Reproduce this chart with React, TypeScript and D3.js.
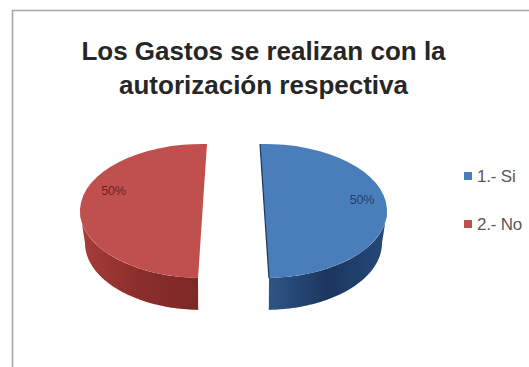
import React from "react";
import * as d3 from "d3";

const categories = ["1.- Si", "2.- No"];
const shares = [50, 50];
const titleLines = ["Los Gastos se realizan con la", "autorización respectiva"];

const topColors = ["#4a7ebb", "#c0504d"];
const sideStops = [
  ["#2f5586", "#1b365f", "#264a78"],
  ["#a83d3a", "#8a2e2c", "#7d2826"],
];

const WIDTH = 529;
const HEIGHT = 367;
const RX = 122.5;
const RY = 67;
const DEPTH = 32;
const CY = 211;
const BASE_SHRINK = 5; // the far rim narrows slightly, as in a perspective view
const LEAN = (2.1 * Math.PI) / 180;
// Each exploded wedge leans its flat edge away from the gap by the same angle.
const leans = [-LEAN, LEAN];
const centres = [264.5, 202.5];
const labelOffsets = [
  [97.5, -10],
  [-89, -19],
];

export default function App() {
  const slices = d3.pie<number>().sort(null)(shares).map((s, i) => ({
    ...s,
    startAngle: s.startAngle + leans[i],
    endAngle: s.endAngle + leans[i],
  }));
  const top = d3.arc<d3.PieArcDatum<number>>().innerRadius(0).outerRadius(RX);
  const outline = d3.line<[number, number]>();

  const sidePath = (s: d3.PieArcDatum<number>, cx: number) => {
    const from = Math.max(s.startAngle, Math.PI / 2);
    const to = Math.min(s.endAngle, (3 * Math.PI) / 2);
    const angles = d3.range(0, 61).map((i) => from + ((to - from) * i) / 60);
    const upper = angles.map((a): [number, number] => [
      cx + RX * Math.sin(a),
      CY - RY * Math.cos(a),
    ]);
    const lower = angles
      .map((a): [number, number] => [
        cx + (RX - BASE_SHRINK) * Math.sin(a),
        CY + DEPTH - RY * Math.cos(a),
      ])
      .reverse();
    return outline([...upper, ...lower]) + "Z";
  };

  const chordEdge = (s: d3.PieArcDatum<number>, cx: number) =>
    outline([
      [cx + RX * Math.sin(s.startAngle), CY - RY * Math.cos(s.startAngle)],
      [cx + RX * Math.sin(s.endAngle), CY - RY * Math.cos(s.endAngle)],
    ]) ?? "";

  return (
    <svg
      width={WIDTH}
      height={HEIGHT}
      viewBox={`0 0 ${WIDTH} ${HEIGHT}`}
      style={{ position: "fixed", left: 0, top: 0, background: "#fff" }}
    >
      <defs>
        {sideStops.map((stops, i) => (
          <linearGradient key={i} id={`side-${i}`} x1="0" x2="1" y1="0" y2="0">
            {stops.map((c, j) => (
              <stop key={j} offset={j / (stops.length - 1)} stopColor={c} />
            ))}
          </linearGradient>
        ))}
      </defs>

      <path d="M12.5 367V10.5H529" fill="none" stroke="#a6a6a6" strokeWidth={1.6} />

      {titleLines.map((line, i) => (
        <text
          key={line}
          x={263.5}
          y={60 + i * 33.5}
          textAnchor="middle"
          fontFamily="'Liberation Sans', Arial, sans-serif"
          fontSize={26}
          fontWeight={700}
          fill="#262626"
        >
          {line}
        </text>
      ))}

      {slices.map((s, i) => (
        <g key={categories[i]}>
          <path d={sidePath(s, centres[i])} fill={`url(#side-${i})`} />
          <path
            d={top(s) ?? ""}
            transform={`translate(${centres[i]},${CY}) scale(1,${RY / RX})`}
            fill={topColors[i]}
          />
          {i === 0 && (
            <path d={chordEdge(s, centres[i])} stroke="#1b365f" strokeWidth={1.2} fill="none" />
          )}
          <text
            x={centres[i] + labelOffsets[i][0]}
            y={CY + labelOffsets[i][1]}
            textAnchor="middle"
            dominantBaseline="middle"
            fontFamily="'Liberation Sans', Arial, sans-serif"
            fontSize={12.5}
            letterSpacing={-0.2}
            fill={i === 0 ? "#1f3f66" : "#6e1f1d"}
          >
            {s.data}%
          </text>
        </g>
      ))}

      {categories.map((c, i) => (
        <g key={c} transform={`translate(464,${172 + i * 48})`}>
          <rect width={8} height={8} fill={topColors[i]} />
          <text
            x={13}
            y={10}
            fontFamily="'Liberation Sans', Arial, sans-serif"
            fontSize={17}
            letterSpacing={-0.2}
            fill="#595959"
          >
            {c}
          </text>
        </g>
      ))}
    </svg>
  );
}
